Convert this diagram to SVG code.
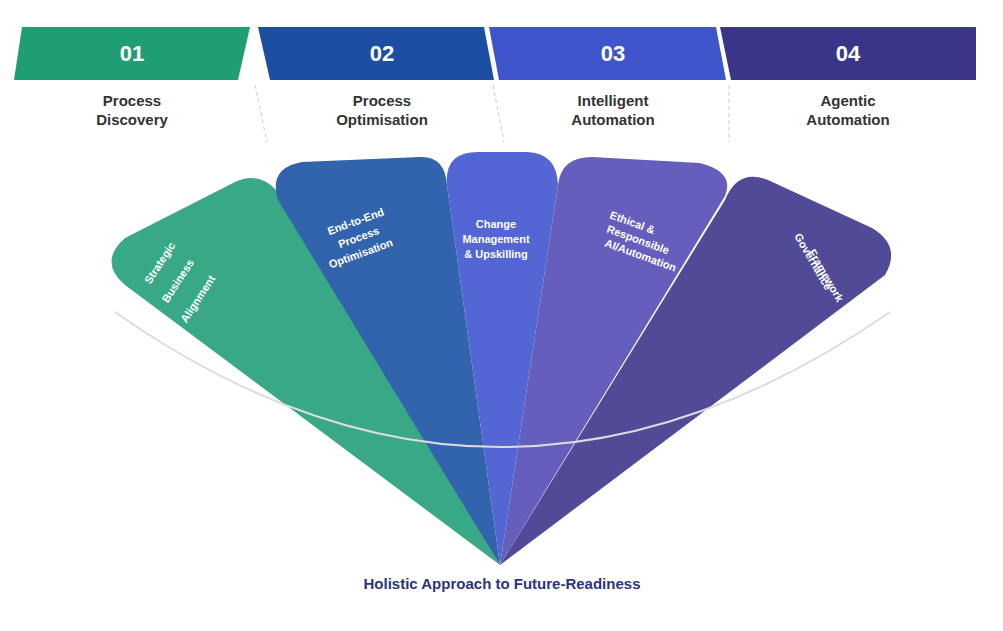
<svg xmlns="http://www.w3.org/2000/svg" width="1003" height="631" viewBox="0 0 1003 631">
<style>
.tab{font:bold 22px "Liberation Sans",Arial,sans-serif;fill:#fff;text-anchor:middle}
.lab{font:bold 15px "Liberation Sans",Arial,sans-serif;fill:#333;text-anchor:middle}
.pt{font:bold 11px "Liberation Sans",Arial,sans-serif;fill:#fff;text-anchor:middle}
.ps{font:bold 11px "Liberation Sans",Arial,sans-serif;fill:#fff}
.sep{stroke:#ccc;stroke-width:1;stroke-dasharray:4 3;fill:none}
</style>
<rect width="1003" height="631" fill="#fff"/>
<g id="tab1"><polygon points="22,27 250,27 238,80 14,80" fill="#1f9e74"/><text class="tab" x="132" y="61">01</text><text class="lab" x="132" y="106">Process</text><text class="lab" x="132" y="125">Discovery</text></g>
<g id="tab2"><polygon points="258,27 484,27 494,80 270,80" fill="#1c4fa4"/><text class="tab" x="382" y="61">02</text><text class="lab" x="382" y="106">Process</text><text class="lab" x="382" y="125">Optimisation</text></g>
<g id="tab3"><polygon points="489,27 716,27 726,80 499,80" fill="#3f55cc"/><text class="tab" x="613" y="61">03</text><text class="lab" x="613" y="106">Intelligent</text><text class="lab" x="613" y="125">Automation</text></g>
<g id="tab4"><polygon points="720,27 976,27 976,80 731,80" fill="#3b3589"/><text class="tab" x="848" y="61">04</text><text class="lab" x="848" y="106">Agentic</text><text class="lab" x="848" y="125">Automation</text></g>
<g id="connectors"><line class="sep" x1="255" y1="85" x2="267" y2="142"/><line class="sep" x1="493" y1="85" x2="504" y2="142"/><line class="sep" x1="729" y1="85" x2="729" y2="142"/></g>
<g id="petal1"><path d="M500,565 L125,285 Q98,262 125,238 L235,182 Q262,170 280,195 Z" fill="#38a886"/>
<text class="pt" transform="translate(163,265) rotate(-57)">Strategic</text>
<text class="pt" transform="translate(181,283) rotate(-57)">Business</text>
<text class="pt" transform="translate(201,301) rotate(-57)">Alignment</text></g>
<g id="petal2"><path d="M500,565 L278,200 Q268,168 302,162 L420,157 Q445,156 447,185 Z" fill="#3263ad"/>
<text class="pt" transform="translate(357,225) rotate(-20)">End-to-End</text>
<text class="pt" transform="translate(360,241) rotate(-20)">Process</text>
<text class="pt" transform="translate(362,257) rotate(-20)">Optimisation</text></g>
<g id="petal3"><path d="M500,565 L447,185 Q444,152 478,152 L527,152 Q557,153 558,185 Z" fill="#5466d4"/>
<text class="pt" x="496" y="228">Change</text><text class="pt" x="496" y="243">Management</text><text class="pt" x="496" y="258">&amp; Upskilling</text></g>
<g id="petal4"><path d="M500,565 L558,185 Q561,157 592,157 L700,163 Q735,172 725,196 Z" fill="#665ebd"/>
<text class="ps" transform="translate(609,218) rotate(20)">Ethical &amp;</text>
<text class="ps" transform="translate(606,232) rotate(20)">Responsible</text>
<text class="ps" transform="translate(604,246) rotate(20)">AI/Automation</text></g>
<g id="petal5"><path d="M500,565 L725,200 Q738,168 768,180 L872,228 Q902,246 885,275 Z" fill="#514a97"/>
<text class="ps" transform="translate(794,236) rotate(60)">Governance</text>
<text class="ps" transform="translate(808,252) rotate(60)">Framework</text></g>
<path d="M115,312 Q500,582 890,312" fill="none" stroke="#ddd" stroke-width="2"/>
<text x="502" y="589" style="font:bold 15px 'Liberation Sans',Arial,sans-serif;fill:#2a3580;text-anchor:middle">Holistic Approach to Future-Readiness</text>
</svg>
